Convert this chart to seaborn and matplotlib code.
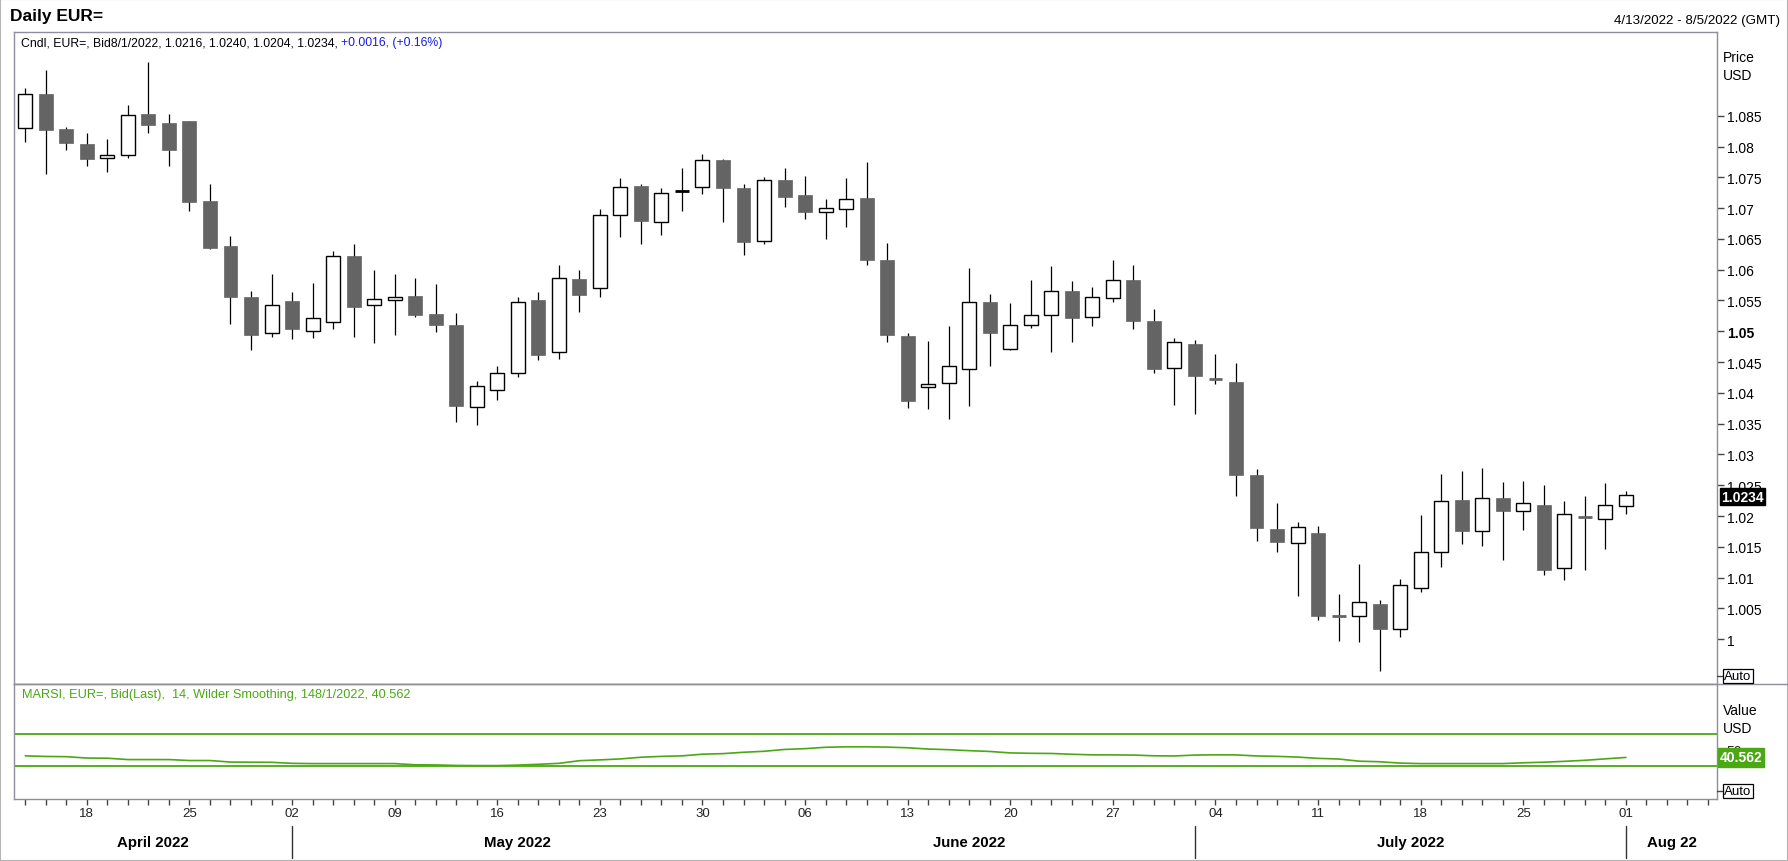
import numpy as np
import pandas as pd
import matplotlib
matplotlib.use("Agg")
import matplotlib.pyplot as plt
import matplotlib.transforms as mtrans
from matplotlib.lines import Line2D
from matplotlib.patches import Rectangle
import seaborn as sns

# ---------------- data ----------------
trade_dates = pd.bdate_range("2022-04-13", "2022-08-01")
axis_dates = pd.bdate_range("2022-04-13", "2022-08-05")

opens = [1.0830, 1.0886, 1.0828, 1.0804, 1.0782, 1.0787, 1.0853, 1.0838, 1.0841, 1.0712,
         1.0638, 1.0556, 1.0497, 1.0549, 1.0500, 1.0515, 1.0622, 1.0542, 1.0550, 1.0557,
         1.0528, 1.0510, 1.0377, 1.0404, 1.0432, 1.0550, 1.0466, 1.0585, 1.0570, 1.0688,
         1.0736, 1.0678, 1.0727, 1.0735, 1.0778, 1.0733, 1.0647, 1.0745, 1.0721, 1.0693,
         1.0698, 1.0716, 1.0616, 1.0492, 1.0409, 1.0416, 1.0439, 1.0547, 1.0471, 1.0510,
         1.0526, 1.0565, 1.0524, 1.0554, 1.0583, 1.0517, 1.0440, 1.0479, 1.0423, 1.0418,
         1.0267, 1.0179, 1.0157, 1.0173, 1.0038, 1.0037, 1.0058, 1.0016, 1.0083, 1.0141,
         1.0226, 1.0175, 1.0229, 1.0209, 1.0218, 1.0115, 1.0197, 1.0195, 1.0216]
highs = [1.0895, 1.0924, 1.0832, 1.0822, 1.0813, 1.0867, 1.0937, 1.0853, 1.0842, 1.0739,
         1.0655, 1.0565, 1.0593, 1.0564, 1.0578, 1.0630, 1.0642, 1.0600, 1.0593, 1.0587,
         1.0577, 1.0530, 1.0419, 1.0444, 1.0555, 1.0563, 1.0608, 1.0600, 1.0699, 1.0749,
         1.0739, 1.0733, 1.0765, 1.0788, 1.0779, 1.0739, 1.0750, 1.0765, 1.0752, 1.0715,
         1.0749, 1.0775, 1.0643, 1.0497, 1.0484, 1.0509, 1.0603, 1.0561, 1.0546, 1.0583,
         1.0606, 1.0581, 1.0572, 1.0616, 1.0608, 1.0536, 1.0489, 1.0486, 1.0463, 1.0449,
         1.0277, 1.0221, 1.0191, 1.0184, 1.0073, 1.0122, 1.0064, 1.0098, 1.0202, 1.0268,
         1.0273, 1.0278, 1.0255, 1.0257, 1.0250, 1.0225, 1.0232, 1.0254, 1.0240]
lows = [1.0808, 1.0756, 1.0795, 1.0769, 1.0759, 1.0782, 1.0822, 1.0769, 1.0696, 1.0634,
        1.0512, 1.0470, 1.0490, 1.0488, 1.0489, 1.0504, 1.0491, 1.0481, 1.0494, 1.0523,
        1.0499, 1.0352, 1.0348, 1.0388, 1.0426, 1.0453, 1.0455, 1.0531, 1.0556, 1.0653,
        1.0641, 1.0656, 1.0696, 1.0723, 1.0677, 1.0624, 1.0641, 1.0702, 1.0683, 1.0650,
        1.0670, 1.0608, 1.0482, 1.0375, 1.0374, 1.0357, 1.0379, 1.0443, 1.0470, 1.0506,
        1.0467, 1.0482, 1.0509, 1.0548, 1.0503, 1.0433, 1.0381, 1.0365, 1.0415, 1.0233,
        1.0160, 1.0142, 1.0070, 1.0032, 0.9998, 0.9996, 0.9949, 1.0004, 1.0076, 1.0118,
        1.0154, 1.0152, 1.0128, 1.0178, 1.0105, 1.0096, 1.0113, 1.0146, 1.0204]
closes = [1.0886, 1.0827, 1.0806, 1.0780, 1.0787, 1.0851, 1.0835, 1.0794, 1.0710, 1.0636,
          1.0555, 1.0494, 1.0542, 1.0504, 1.0521, 1.0622, 1.0539, 1.0553, 1.0555, 1.0526,
          1.0510, 1.0379, 1.0411, 1.0432, 1.0547, 1.0461, 1.0586, 1.0559, 1.0689, 1.0735,
          1.0679, 1.0724, 1.0727, 1.0778, 1.0733, 1.0645, 1.0745, 1.0718, 1.0694, 1.0700,
          1.0714, 1.0615, 1.0494, 1.0387, 1.0414, 1.0443, 1.0547, 1.0498, 1.0510, 1.0526,
          1.0565, 1.0522, 1.0555, 1.0583, 1.0517, 1.0439, 1.0482, 1.0428, 1.0422, 1.0266,
          1.0181, 1.0158, 1.0183, 1.0038, 1.0037, 1.0060, 1.0016, 1.0088, 1.0141, 1.0224,
          1.0176, 1.0229, 1.0209, 1.0221, 1.0113, 1.0203, 1.0198, 1.0218, 1.0234]
marsi = [42.5, 41.8, 41.5, 39.8, 39.6, 37.9, 37.9, 37.9, 36.7, 36.7,
         34.8, 34.6, 34.5, 33.2, 32.9, 32.9, 32.9, 32.9, 32.9, 31.4,
         31.2, 30.6, 30.4, 30.4, 31.0, 32.0, 33.2, 36.5, 37.5, 38.7,
         40.8, 41.9, 42.5, 44.6, 45.3, 47.0, 48.2, 50.5, 51.5, 53.2,
         53.8, 53.8, 53.4, 52.6, 51.0, 50.2, 49.0, 48.0, 46.2, 45.7,
         45.5, 44.5, 43.8, 43.7, 43.5, 42.6, 42.4, 43.5, 43.8, 43.7,
         42.4, 41.9, 41.0, 39.4, 38.6, 35.9, 35.2, 33.5, 32.9, 32.9,
         32.9, 32.9, 32.9, 33.9, 34.6, 35.7, 37.0, 38.8, 40.562]
price_ticks = [1.0, 1.005, 1.01, 1.015, 1.02, 1.025, 1.03, 1.035, 1.04, 1.045,
               1.05, 1.055, 1.06, 1.065, 1.07, 1.075, 1.08, 1.085]
rsi_bands = [70, 30]
week_dates = ["2022-04-18", "2022-04-25", "2022-05-02", "2022-05-09", "2022-05-16",
              "2022-05-23", "2022-05-30", "2022-06-06", "2022-06-13", "2022-06-20",
              "2022-06-27", "2022-07-04", "2022-07-11", "2022-07-18", "2022-07-25",
              "2022-08-01"]
week_labels = ["18", "25", "02", "09", "16", "23", "30", "06", "13", "20", "27",
               "04", "11", "18", "25", "01"]
month_labels = ["April 2022", "May 2022", "June 2022", "July 2022", "Aug 22"]
month_starts = ["2022-05-02", "2022-06-01", "2022-07-01", "2022-08-01"]
separator_months = ["2022-05-02", "2022-07-01", "2022-08-01"]

# ---------------- style ----------------
sns.set_theme(style="white")
plt.rcParams["font.family"] = ["Liberation Sans", "DejaVu Sans"]

W, H = 1788, 862
fig = plt.figure(figsize=(W / 100, H / 100), dpi=100)
fig.patch.set_facecolor("white")

def fx(px):
    return px / W

def fy(py):
    return 1 - py / H

L, R, T, MID, B = 14, 1717, 33, 685, 800
ax1 = fig.add_axes([fx(L), fy(MID), fx(R - L), (MID - T) / H])
ax2 = fig.add_axes([fx(L), fy(B), fx(R - L), (B - MID) / H])

frame_col = "#8e8e9c"
for ax in (ax1, ax2):
    ax.set_facecolor("white")
    for s in ax.spines.values():
        s.set_color(frame_col)
        s.set_linewidth(1.0)

pos = {d: i for i, d in enumerate(axis_dates)}
xs = np.array([pos[d] for d in trade_dates])
o = np.array(opens); h = np.array(highs); l = np.array(lows); c = np.array(closes)

dark = "#646464"
# wicks
ax1.vlines(xs, l, h, color="black", linewidth=0.9, zorder=2)
# bodies
bw = 0.68
for x, oo, cc in zip(xs, o, c):
    if abs(cc - oo) < 0.00015:
        col = "black" if cc == oo else dark
        ax1.hlines(cc, x - bw / 2, x + bw / 2, color=col, linewidth=2.0, zorder=3)
    elif cc > oo:
        ax1.bar(x, cc - oo, bottom=oo, width=bw, facecolor="white",
                edgecolor="black", linewidth=1.0, zorder=3)
    else:
        ax1.bar(x, oo - cc, bottom=cc, width=bw, facecolor=dark,
                edgecolor=dark, linewidth=0.5, zorder=3)

xlim = (-0.55, 82.44)
ax1.set_xlim(*xlim)
ax1.set_ylim(0.99274, 1.09859)
ax1.set_xticks([])
ax1.yaxis.set_ticks_position("right")
ax1.set_yticks(price_ticks)
ax1.set_yticklabels([f"{v:g}" for v in price_ticks])
ax1.tick_params(axis="y", direction="out", length=5, width=1, color="#444",
                pad=2, labelsize=10, labelcolor="black", right=True, left=False)
for t in ax1.get_yticklabels():
    if t.get_text() == "1.05":
        t.set_fontweight("bold")

# last price tag
ax1.annotate(f"{closes[-1]:.4f}", xy=(1.0, closes[-1]), xycoords=("axes fraction", "data"),
             xytext=(3, -1), textcoords="offset points", ha="left", va="center",
             fontsize=10, fontweight="bold", color="white", annotation_clip=False,
             bbox=dict(boxstyle="square,pad=0.1", fc="black", ec="black"), zorder=10)

# ---------------- MARSI panel ----------------
green = "#4aa812"
for v in rsi_bands:
    ax2.axhline(v, color=green, linewidth=1.3, zorder=2)
sns.lineplot(x=xs, y=marsi, ax=ax2, color=green, linewidth=1.2, zorder=3)
ax2.set_xlim(*xlim)
ax2.set_ylim(-11.2, 132)
ax2.yaxis.set_ticks_position("right")
ax2.set_yticks([50])
ax2.set_yticklabels(["50"])
ax2.tick_params(axis="y", direction="out", length=5, width=1, color="#444",
                pad=2, labelsize=10, right=True, left=False)
ax2.set_ylabel("")
ax2.annotate(f"{marsi[-1]:.3f}", xy=(1.0, marsi[-1]), xycoords=("axes fraction", "data"),
             xytext=(2, 0), textcoords="offset points", ha="left", va="center",
             fontsize=10, fontweight="bold", color="white", annotation_clip=False,
             bbox=dict(boxstyle="square,pad=0.15", fc=green, ec=green), zorder=10)

# x axis
mondays = [pos[pd.Timestamp(d)] for d in week_dates]
ax2.set_xticks(mondays)
ax2.set_xticklabels(week_labels)
ax2.set_xticks(np.arange(len(axis_dates)), minor=True)
ax2.tick_params(axis="x", which="both", direction="out", length=4, width=1,
                color="#444", bottom=True, top=False)
ax2.tick_params(axis="x", which="major", pad=2, labelsize=9.5, labelcolor="#222")
ax2.set_xlabel("")

bx = mtrans.blended_transform_factory(ax2.transData, ax2.transAxes)
bounds = [xlim[0]] + [pos[pd.Timestamp(d)] for d in month_starts] + [xlim[1]]
for k, lab in enumerate(month_labels):
    ax2.text((bounds[k] + bounds[k + 1]) / 2, (B - 843.5) / (B - MID), lab,
             transform=bx, ha="center", va="center", fontsize=10.8, fontweight="bold",
             color="black", clip_on=False)
for d in separator_months:
    xv = pos[pd.Timestamp(d)]
    ax2.add_line(Line2D([xv, xv], [(B - 827) / (B - MID), (B - 859) / (B - MID)],
                        transform=bx, color="#333", linewidth=1.0, clip_on=False))

# ---------------- texts ----------------
fig.text(fx(10), fy(16.5), "Daily EUR=", fontsize=12.5, fontweight="bold",
         ha="left", va="center", color="black")
fig.text(fx(1780), fy(21), "4/13/2022 - 8/5/2022 (GMT)", fontsize=9.6,
         ha="right", va="center", color="black")

chg = closes[-1] - closes[-2]
head1 = (f"Cndl, EUR=, Bid8/1/2022, {opens[-1]:.4f}, {highs[-1]:.4f}, "
         f"{lows[-1]:.4f}, {closes[-1]:.4f}, ")
t1 = fig.text(fx(21), fy(43), head1, fontsize=8.8, ha="left", va="center", color="black")
fig.canvas.draw()
ext = t1.get_window_extent(renderer=fig.canvas.get_renderer())
fig.text(ext.x1 / W, fy(43), f"+{chg:.4f}, (+{chg / closes[-2] * 100:.2f}%)",
         fontsize=8.8, ha="left", va="center", color="#1a1ae6")

fig.text(fx(22), fy(695), "MARSI, EUR=, Bid(Last),  14, Wilder Smoothing, 148/1/2022, "
         f"{marsi[-1]:.3f}", fontsize=9.2, ha="left", va="center", color=green)

for txt, yy in (("Price", 58), ("USD", 76), ("Value", 711), ("USD", 729)):
    fig.text(fx(1723), fy(yy), txt, fontsize=10, ha="left", va="center", color="black")
for yy in (677, 792):
    fig.text(fx(1724), fy(yy), "Auto", fontsize=9.5, ha="left", va="center", color="black",
             bbox=dict(boxstyle="square,pad=0.1", fc="white", ec="black", lw=0.9))
    fig.add_artist(Line2D([fx(R), fx(R + 5)], [fy(yy), fy(yy)], color="#444", lw=1))

# panel separator across full width, and outer border
fig.add_artist(Line2D([fx(L), 1.0], [fy(MID), fy(MID)], color=frame_col, lw=1.0))
fig.add_artist(Rectangle((0, 0), 1, 1, transform=fig.transFigure, fill=False,
                         ec="#b4b4b4", lw=1.5))

fig.savefig("out.png", dpi=100, facecolor="white")
